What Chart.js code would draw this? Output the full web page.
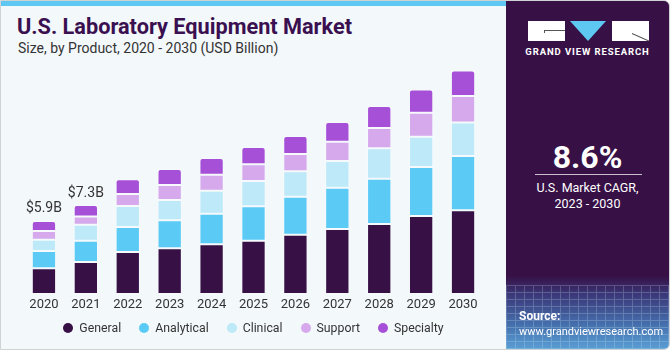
<!DOCTYPE html>
<html>
<head>
<meta charset="utf-8">
<script src="https://cdn.jsdelivr.net/npm/chart.js@4.4.0/dist/chart.umd.min.js"></script>
<style>
  html, body { margin: 0; padding: 0; }
  body { width: 670px; height: 350px; overflow: hidden; font-family: Roboto, "Liberation Sans", sans-serif; }
  #frame { position: absolute; left: 0; top: 0; width: 668px; height: 348px; border: 1px solid #cfd3d6; background: #f3f8fb; border-radius: 0 6px 6px 0; overflow: hidden; }
  #stripe { position: absolute; left: 0; top: 0; width: 506px; height: 5px; background: #5ec8f2; }
  #title { position: absolute; left: 16px; top: 13px; font-size: 21.7px; font-weight: 700; color: #3a1050; white-space: nowrap; }
  #subtitle { position: absolute; left: 17px; top: 39px; font-size: 14px; color: #333; white-space: nowrap; }
  #chartBox { position: absolute; left: 0; top: 0; width: 505px; height: 348px; }
  #legend { position: absolute; left: 0; width: 505px; top: 319px; height: 16px; display: flex; justify-content: center; align-items: center; font-size: 12.3px; color: #333; }
  #legend .item { display: flex; align-items: center; margin: 0 9px; white-space: nowrap; }
  #legend .dot { width: 10px; height: 10px; border-radius: 50%; margin-right: 6px; }
  #panel { position: absolute; left: 505px; top: 0; width: 163px; height: 348px;
           background: linear-gradient(to bottom, #371046 0%, #371046 79%, #3b3677 84%, #4670ad 93%, #5a9fd4 100%); }
  #mesh { position: absolute; left: 0; top: 284px; width: 163px; height: 64px; opacity: 0.22;
          background-image: repeating-linear-gradient(to right, #d6f0ff 0 1px, transparent 1px 9px),
                            repeating-linear-gradient(to bottom, #d6f0ff 0 1px, transparent 1px 7px); }
  #logo { position: absolute; left: 22px; top: 20px; width: 122px; height: 20px; }
  #logo .b1 { position: absolute; left: 0; top: 0; width: 37px; height: 20px; background: #fff; }
  #logo .b1 i { position: absolute; left: 16px; top: 9px; width: 21px; height: 1px; background: #555; }
  #logo .b1 u { position: absolute; left: 16px; top: 9px; width: 1px; height: 3px; background: #555; }
  #logo .tri { position: absolute; left: 42px; top: 0; width: 0; height: 0; border-left: 18.5px solid transparent; border-right: 18.5px solid transparent; border-top: 20px solid #5ec8f2; }
  #logo .b2 { position: absolute; left: 84px; top: 0; width: 37px; height: 20px; background: #fff; overflow: hidden; }
  #logo .b2 i { position: absolute; left: 20px; top: 12px; width: 19px; height: 1px; background: #555; transform: rotate(24deg); transform-origin: left center; }
  #brand { position: absolute; left: 0; width: 163px; top: 45px; text-align: center; color: #fff; font-size: 9.5px; font-weight: 700; letter-spacing: 0.9px; }
  #cagr { position: absolute; left: 0; width: 163px; top: 137px; text-align: center; color: #fff; font-size: 32px; font-weight: 700; }
  #rule { position: absolute; left: 29px; width: 107px; top: 173px; height: 1px; background: #c9c0d0; }
  #cagrText { position: absolute; left: 0; width: 163px; top: 179px; text-align: center; color: #fff; font-size: 12.5px; line-height: 16px; }
  #source { position: absolute; left: 13px; top: 308px; color: #fff; font-size: 11px; line-height: 15px; }
  #source b { font-size: 12px; }
</style>
</head>
<body>
<div id="frame">
  <div id="stripe"></div>
  <div id="title">U.S. Laboratory Equipment Market</div>
  <div id="subtitle">Size, by Product, 2020 - 2030 (USD Billion)</div>
  <div id="chartBox"><canvas id="marketChart"></canvas></div>
  <div id="legend"></div>
  <div id="panel">
    <div id="mesh"></div>
    <div id="logo"><div class="b1"><i></i><u></u></div><div class="tri"></div><div class="b2"><i></i></div></div>
    <div id="brand">GRAND VIEW RESEARCH</div>
    <div id="cagr">8.6%</div>
    <div id="rule"></div>
    <div id="cagrText">U.S. Market CAGR,<br>2023 - 2030</div>
    <div id="source"><b>Source:</b><br>www.grandviewresearch.com</div>
  </div>
</div>
<script>
// Data (USD Billion)
const years = ['2020', '2021', '2022', '2023', '2024', '2025', '2026', '2027', '2028', '2029', '2030'];
const general    = [2.09, 2.60, 3.41, 3.72, 4.04, 4.33, 4.82, 5.28, 5.69, 6.34, 6.80];
const analytical = [1.41, 1.73, 2.03, 2.28, 2.49, 2.80, 3.09, 3.36, 3.68, 3.98, 4.41];
const clinical   = [0.92, 1.30, 1.71, 1.65, 1.87, 2.06, 2.07, 2.17, 2.47, 2.46, 2.74];
const support    = [0.71, 0.68, 0.98, 1.22, 1.30, 1.36, 1.41, 1.57, 1.65, 1.95, 2.14];
const specialty  = [0.81, 0.92, 1.20, 1.30, 1.36, 1.41, 1.46, 1.60, 1.79, 1.90, 2.09];
// Value labels shown above the first two bars
const totalLabels = ['$5.9B', '$7.3B'];

const seriesNames  = ['General', 'Analytical', 'Clinical', 'Support', 'Specialty'];
const seriesValues = [general, analytical, clinical, support, specialty];
const seriesColors = ['#371046', '#5bcbf6', '#bde9f8', '#d5a9ec', '#a650d8'];

document.addEventListener('DOMContentLoaded', function () {
    renderChart();
});

/**
 * Draw the "$x.xB" labels above the first bars
 */
const totalLabelPlugin = {
    id: 'totalLabels',
    afterDatasetsDraw(chart) {
        const ctx = chart.ctx;
        const lastMeta = chart.getDatasetMeta(seriesValues.length - 1);
        ctx.save();
        ctx.font = '14px Roboto, "Liberation Sans", sans-serif';
        ctx.fillStyle = '#333333';
        ctx.textAlign = 'center';
        ctx.textBaseline = 'bottom';
        totalLabels.forEach(function (label, i) {
            const bar = lastMeta.data[i];
            ctx.fillText(label, bar.x, bar.y - 5);
        });
        ctx.restore();
    }
};

/**
 * Build the legend below the chart from the chart's datasets
 */
function buildLegend(chart) {
    const box = document.getElementById('legend');
    box.innerHTML = '';
    chart.data.datasets.forEach(function (ds) {
        const item = document.createElement('div');
        item.className = 'item';
        const dot = document.createElement('span');
        dot.className = 'dot';
        dot.style.background = ds.backgroundColor;
        item.appendChild(dot);
        item.appendChild(document.createTextNode(ds.label));
        box.appendChild(item);
    });
}

function renderChart() {
    const canvas = document.getElementById('marketChart');
    if (!canvas) return;

    const datasets = seriesNames.map(function (name, i) {
        const isTop = i === seriesNames.length - 1;
        return {
            label: name,
            data: seriesValues[i],
            backgroundColor: seriesColors[i],
            borderColor: 'rgba(255, 255, 255, 0.35)',
            borderWidth: 1,
            borderSkipped: false,
            borderRadius: isTop ? { topLeft: 3, topRight: 3 } : 0,
            barPercentage: 0.58,
            categoryPercentage: 1.0
        };
    });

    const chart = new Chart(canvas, {
        type: 'bar',
        data: { labels: years, datasets: datasets },
        plugins: [totalLabelPlugin],
        options: {
            responsive: true,
            maintainAspectRatio: false,
            animation: false,
            layout: {
                padding: { left: 22, right: 22, top: 47, bottom: 36 }
            },
            plugins: {
                legend: { display: false },
                tooltip: { enabled: false }
            },
            scales: {
                x: {
                    stacked: true,
                    grid: { display: false, drawTicks: false },
                    border: { display: false },
                    ticks: {
                        color: '#333333',
                        padding: 3,
                        font: { size: 13, family: 'Roboto, "Liberation Sans", sans-serif' }
                    },
                    afterFit: function (axis) { axis.height = 19; }
                },
                y: {
                    stacked: true,
                    display: false,
                    min: 0,
                    max: 20
                }
            }
        }
    });
    buildLegend(chart);
}
</script>
</body>
</html>
